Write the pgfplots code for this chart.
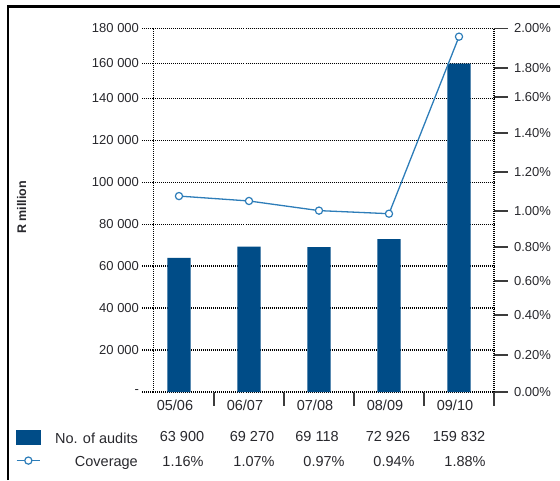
\documentclass[border=0pt]{standalone}
\usepackage{pgfplots}
\pgfplotsset{compat=1.18}
\usepackage{fontspec}
\setmainfont{Liberation Sans}
\definecolor{barblue}{RGB}{0,76,135}
\definecolor{lineblue}{RGB}{45,125,185}
\definecolor{tickgray}{RGB}{60,60,60}
\definecolor{txt}{RGB}{40,40,45}
\pgfplotsset{
  covlegend/.style={legend image code/.code={%
    \draw[lineblue, line width=1.3pt] (0pt,1.7pt) -- (23.3pt,1.7pt);
    \draw[lineblue, line width=1.2pt, fill=white] (11.7pt,1.7pt) circle (3.6pt);}},
  barlegend/.style={legend image code/.code={\fill[barblue] (0pt,-5.6pt) rectangle (23.3pt,9.0pt);}},
}
\begin{document}
\begin{tikzpicture}[x=1pt,y=1pt]
\useasboundingbox (0,0) rectangle (560,480);
\draw[line width=2.5pt] (8,0) -- (8,473.5) -- (561,473.5);

% left axis: number of audits (thousands)
\begin{axis}[
  at={(153.5pt,88pt)}, anchor=south west,
  scale only axis, width=340.5pt, height=363.5pt,
  xmin=-0.364, xmax=4.5, ymin=0, ymax=180,
  y coord trafo/.code={\pgfmathparse{#1<140 ? #1 : 140+(#1-140)*0.832}},
  y coord inv trafo/.code={\pgfmathparse{#1<140 ? #1 : 140+(#1-140)/0.832}},
  ybar, bar width=23.3pt,
  axis y line*=left, axis x line*=bottom,
  y axis line style={black, line width=1.3pt, dash pattern=on 1pt off 1pt},
  x axis line style={draw=none},
  ytick={0,20,40,60,80,100,120,140,160,180},
  yticklabels={-,20 000,40 000,60 000,80 000,100 000,120 000,140 000,160 000,180 000},
  ymajorgrids,
  major grid style={black, line width=1.3pt, dash pattern=on 1pt off 1pt},
  ytick style={black, line width=1.3pt, dash pattern=on 1pt off 1pt},
  tick align=outside, major tick length=11pt,
  xtick={0,1,2,3,4}, xticklabels={05/06,06/07,07/08,08/09,09/10},
  xtick style={draw=none},
  yticklabel style={font=\fontsize{13}{15}\selectfont, text=txt},
  xticklabel style={font=\fontsize{14.5}{17}\selectfont, text=txt, anchor=center, xshift=-4pt, yshift=-2.3pt},
  ylabel={R million},
  ylabel style={at={(axis description cs:-0.387,0.5076)}, anchor=center, font=\bfseries\fontsize{12.5}{14}\selectfont, text=txt},
  clip=false,
]
\addplot[fill=barblue, draw=none] coordinates {(0,63.900) (1,69.270) (2,69.118) (3,72.926) (4,159.832)};
\end{axis}

% right axis: coverage (%)
\begin{axis}[
  at={(153.5pt,88pt)}, anchor=south west,
  scale only axis, width=340.5pt, height=363.5pt,
  xmin=-0.364, xmax=4.5, ymin=0, ymax=2,
  axis y line*=right, axis x line*=bottom,
  y axis line style={black, line width=1.3pt, dash pattern=on 1pt off 1pt},
  x axis line style={draw=none},
  ytick={0,0.204,0.424,0.611,0.798,0.996,1.210,1.425,1.623,1.783,2.0},
  yticklabels={0.00\%,0.20\%,0.40\%,0.60\%,0.80\%,1.00\%,1.20\%,1.40\%,1.60\%,1.80\%,2.00\%},
  ytick style={tickgray, line width=1.2pt},
  xtick={0.5,1.5,2.5,3.5,4.5}, xticklabels={},
  xtick style={tickgray, line width=1.2pt},
  tick align=outside, major tick length=13.5pt,
  yticklabel style={font=\fontsize{13}{15}\selectfont, text=txt, xshift=3pt},
  clip=false,
  legend cell align=right,
  legend style={at={(axis description cs:-0.4038,-0.1037)}, anchor=north west,
    draw=none, fill=none, inner sep=0pt, outer sep=0pt, row sep=11.5pt, column sep=12.2pt,
    nodes={inner sep=0pt, text=txt}, font=\fontsize{14.5}{17}\selectfont},
]
\addlegendimage{barlegend}
\addlegendentry{\makebox[85pt][r]{No. of audits}}
\addplot[lineblue, line width=1.3pt, mark=*, mark size=3.6pt,
  mark options={fill=white, draw=lineblue, line width=1.2pt}, covlegend]
  coordinates {(0,1.078) (1,1.051) (2,0.998) (3,0.981) (4,1.955)};
\addlegendentry{\makebox[85pt][r]{Coverage}}
\end{axis}

% data table under the chart
\begin{scope}[every node/.style={font=\fontsize{14.5}{17}\selectfont, text=txt, inner sep=0pt, anchor=center}]
\node at (182,43) {63 900};
\node at (252,43) {69 270};
\node at (317,43) {69 118};
\node at (388,43) {72 926};
\node at (459,43) {159 832};
\node at (183,18.5) {1.16\%};
\node at (254,18.5) {1.07\%};
\node at (324,18.5) {0.97\%};
\node at (394,18.5) {0.94\%};
\node at (465,18.5) {1.88\%};
\end{scope}
\end{tikzpicture}
\end{document}
